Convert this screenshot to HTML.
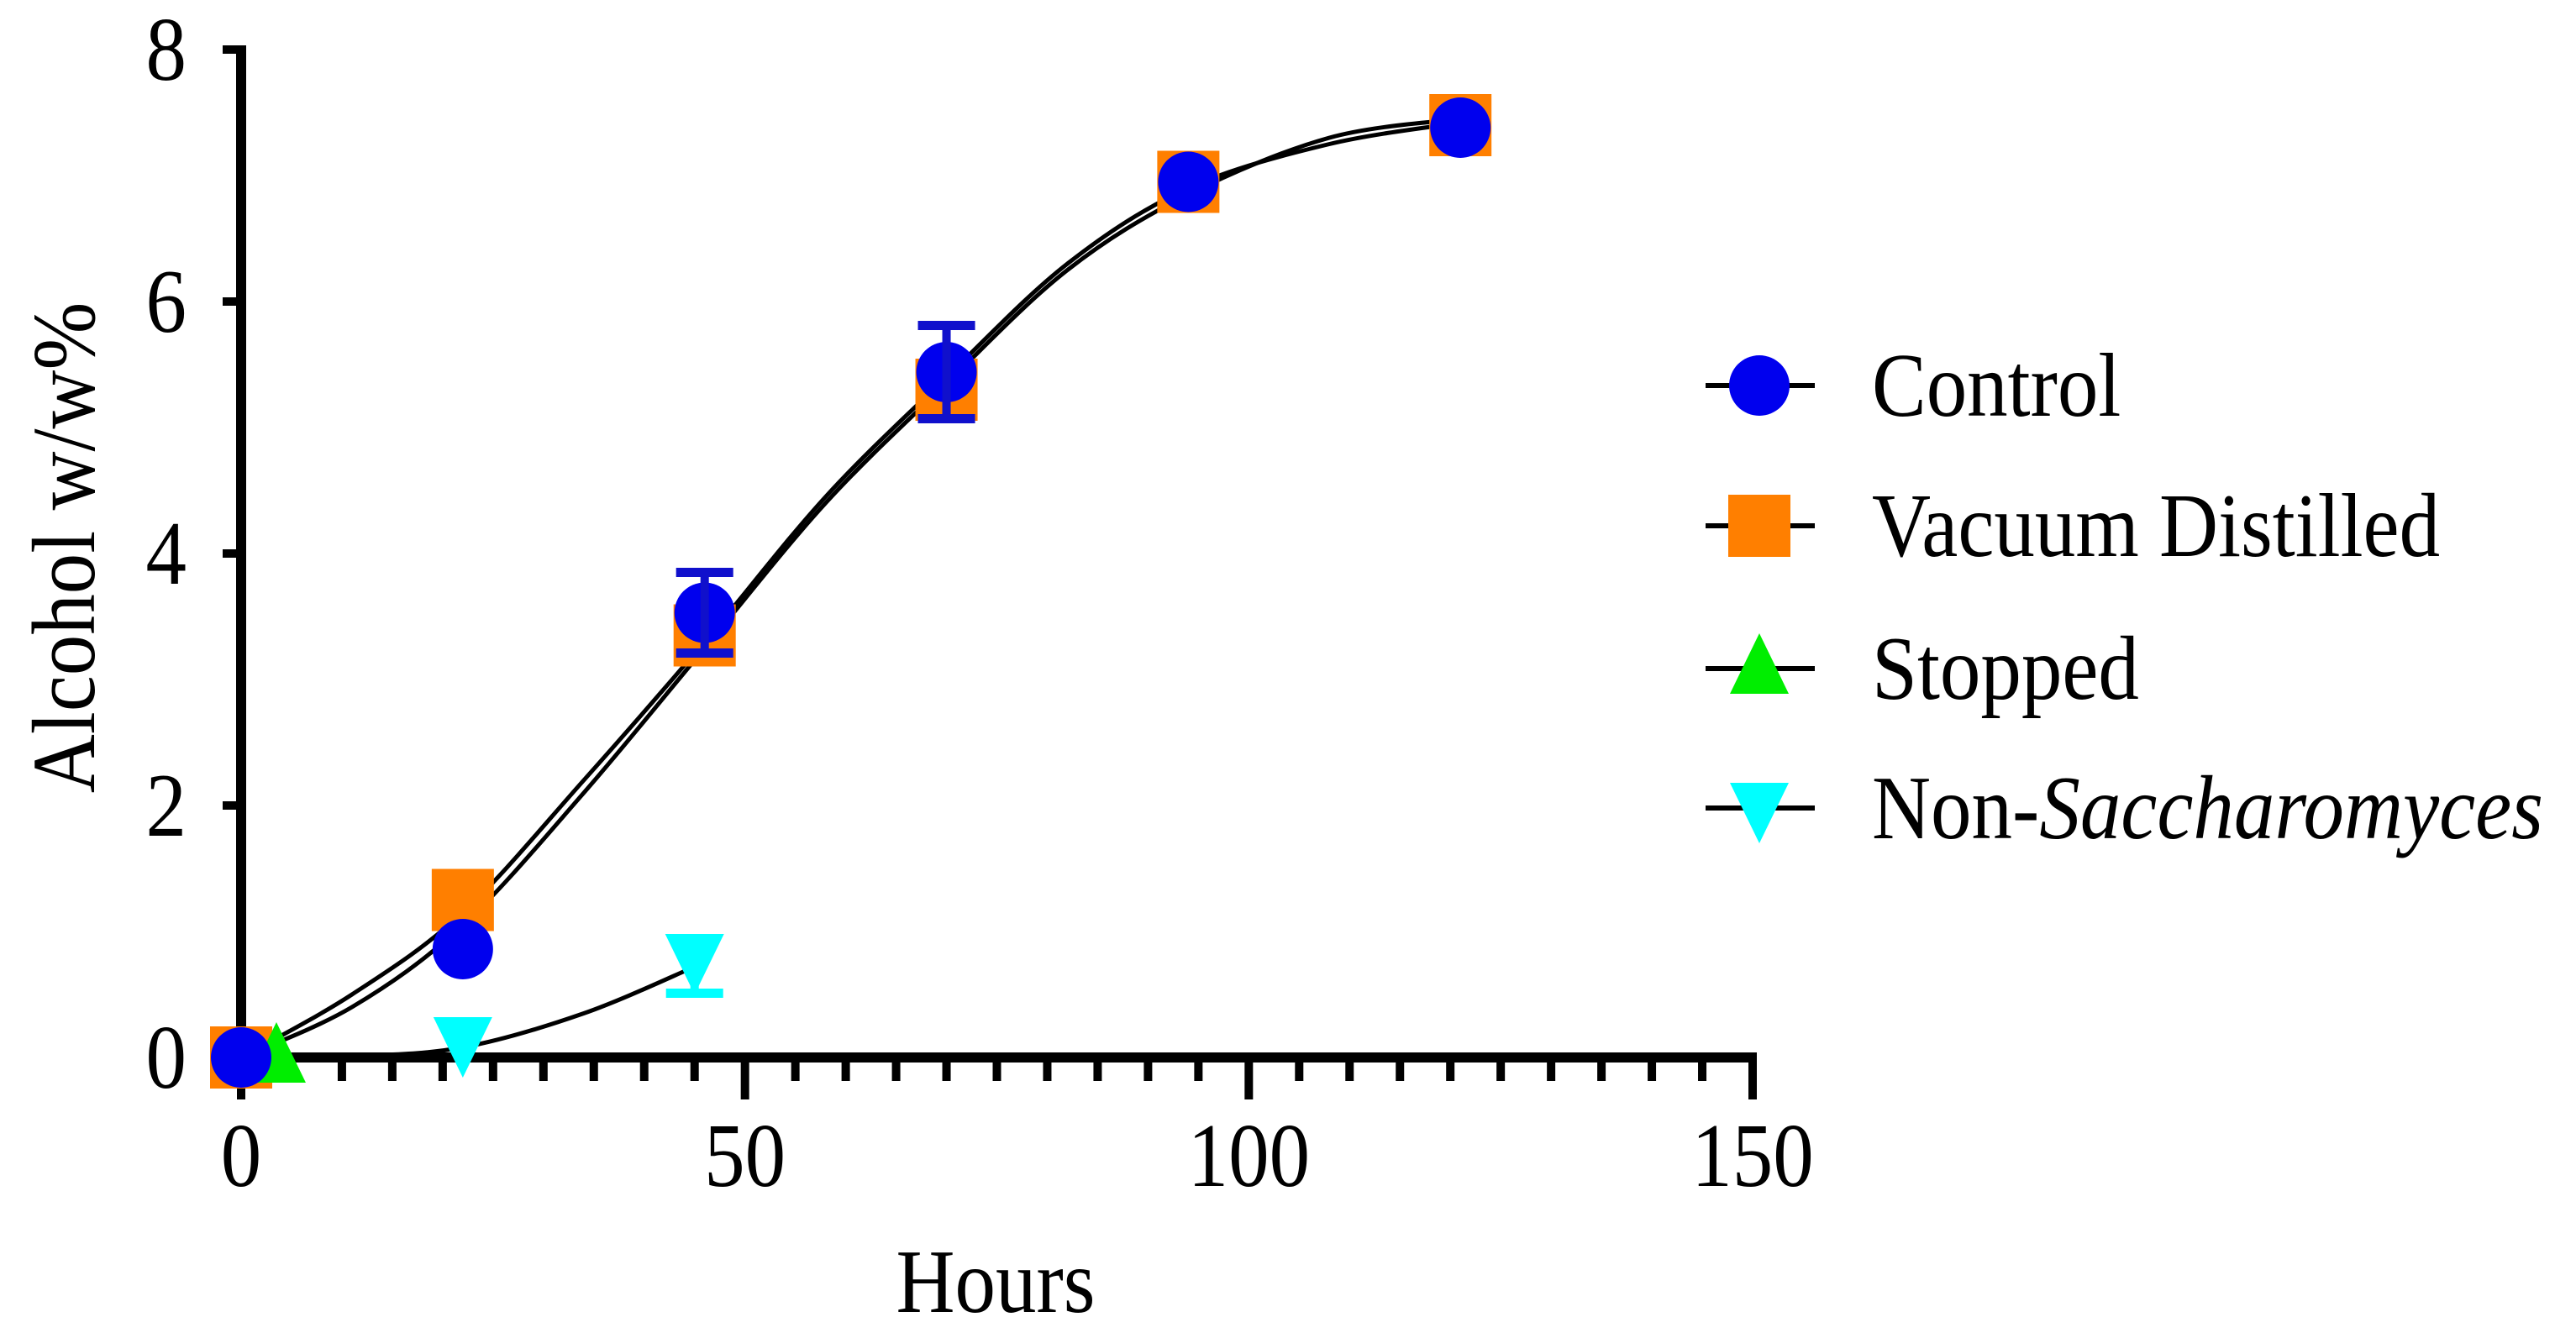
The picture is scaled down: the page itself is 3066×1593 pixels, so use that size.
<!DOCTYPE html>
<html><head><meta charset="utf-8"><style>
html,body{margin:0;padding:0;background:#fff;}
svg{display:block;}
text{font-family:"Liberation Serif",serif;fill:#000;}
</style></head><body>
<svg id="chart" width="3066" height="1593" viewBox="0 0 3066 1593" xmlns="http://www.w3.org/2000/svg">
<g id="axes"></g>
<g id="curves"></g>
<g id="marks"></g>
<g id="legend"></g>
<text x="0" y="0" font-size="97" text-anchor="middle" transform="translate(112,652) rotate(-90) scale(1,1.1)">Alcohol w/w%</text>
<text x="0" y="0" font-size="97" text-anchor="middle" transform="translate(1185,1562) scale(1,1.12)">Hours</text>
</svg>
<script>
const xTicks=[0,50,100,150];
const yTicks=[0,2,4,6,8];
const controlX=[0,22,46,70,94,121];
const controlY=[0,0.86,3.53,5.44,6.95,7.38];
const controlErr=[0,0,0.32,0.37,0,0];
const vacuumX=[0,22,46,70,94,121];
const vacuumY=[0,1.25,3.35,5.3,6.95,7.4];
const stoppedX=[3.5];
const stoppedY=[0];
const nonSaccX=[0,22,45];
const nonSaccY=[0,0.12,0.78];
const nonSaccErr=[0,0,0.27];
const seriesNames=["Control","Vacuum Distilled","Stopped","Non-Saccharomyces"];
// fitted curve values
const fitX=[0,11,22,34,46,58,70,82,94,108,121];
const controlFit=[0,0.4,1.05,2.1,3.25,4.4,5.35,6.25,6.85,7.3,7.45];
const vacuumFit=[0,0.5,1.15,2.2,3.3,4.45,5.4,6.3,6.9,7.25,7.42];
const nonSaccFitX=[0,11,22,34,45];
const nonSaccFit=[0,0.01,0.08,0.35,0.72];

const X0=287,X1=2086,Y0=1259,Y1=59;
function sx(v){return X0+(v-0)/150*(X1-X0);}
function sy(v){return Y0-(v-0)/8*(Y0-Y1);}
const NS="http://www.w3.org/2000/svg";
function mk(tag,attrs,parent){const e=document.createElementNS(NS,tag);for(const k in attrs)e.setAttribute(k,attrs[k]);parent.appendChild(e);return e;}
const axes=document.getElementById('axes'),curves=document.getElementById('curves'),marks=document.getElementById('marks'),legend=document.getElementById('legend');
function txt(x,y,anchor,parent){return mk('text',{x:0,y:0,'font-size':97,'text-anchor':anchor,transform:'translate('+x+','+y+') scale(1,1.12)'},parent);}

let a=mk('line',{x1:X0,y1:Y1-5,x2:X0,y2:Y0+6,stroke:'#000','stroke-width':12},axes);


a=mk('line',{x1:X0-16,y1:Y0,x2:X1+5,y2:Y0,stroke:'#000','stroke-width':12},axes);


yTicks.forEach(v=>{
  const t=mk('line',{x1:X0-22,y1:sy(v),x2:X0,y2:sy(v),stroke:'#000','stroke-width':10},axes);
  
  
  const l=txt(222,sy(v)+36,'end',axes);
  l.textContent=v;
  
  
});
for(let v=0;v<=150;v+=5){
  const major=xTicks.indexOf(v)>=0;
  const t=mk('line',{x1:sx(v),y1:Y0,x2:sx(v),y2:Y0+(major?50:28),stroke:'#000','stroke-width':10},axes);
  
  
}
xTicks.forEach(v=>{
  const l=txt(sx(v),1412,'middle',axes);
  l.textContent=v;
  
  
});

function smooth(xs,ys){
  const p=xs.map((x,i)=>[sx(x),sy(ys[i])]);
  let d='M'+p[0][0]+','+p[0][1];
  for(let i=0;i<p.length-1;i++){
    const p0=p[Math.max(0,i-1)],p1=p[i],p2=p[i+1],p3=p[Math.min(p.length-1,i+2)];
    const c1=[p1[0]+(p2[0]-p0[0])/6,p1[1]+(p2[1]-p0[1])/6];
    const c2=[p2[0]-(p3[0]-p1[0])/6,p2[1]-(p3[1]-p1[1])/6];
    d+=' C'+c1[0]+','+c1[1]+' '+c2[0]+','+c2[1]+' '+p2[0]+','+p2[1];
  }
  return d;
}
[[fitX,controlFit,'control-curve'],[fitX,vacuumFit,'vacuum-curve'],[nonSaccFitX,nonSaccFit,'non-sacc-curve']].forEach(s=>{
  const c=mk('path',{d:smooth(s[0],s[1]),fill:'none',stroke:'#000','stroke-width':5},curves);
  
  
});

function errBar(x,y,e,color,dir){
  if(!e)return;
  const g=mk('g',{},marks);
  
  
  const ys=[];
  if(dir!=='down')ys.push(y+e);
  if(dir!=='up')ys.push(y-e);
  ys.forEach(v=>{
    mk('line',{x1:sx(x),y1:sy(y),x2:sx(x),y2:sy(v),stroke:color,'stroke-width':10},g);
    mk('line',{x1:sx(x)-34,y1:sy(v),x2:sx(x)+34,y2:sy(v),stroke:color,'stroke-width':11},g);
  });
}
function square(cx,cy,p,name){const r=mk('rect',{x:cx-37,y:cy-37,width:74,height:74,fill:'#ff7f00'},p);}
function circle(cx,cy,p,name){const r=mk('circle',{cx:cx,cy:cy,r:36,fill:'#0000ee'},p);}
function triUp(cx,cy,p,name){const r=mk('polygon',{points:(cx)+','+(cy-42)+' '+(cx+35)+','+(cy+30)+' '+(cx-35)+','+(cy+30),fill:'#00ee00'},p);}
function triDown(cx,cy,p,name){const r=mk('polygon',{points:(cx)+','+(cy+42)+' '+(cx+35)+','+(cy-30)+' '+(cx-35)+','+(cy-30),fill:'#00ffff'},p);}

nonSaccX.forEach((x,i)=>{ if(i>0){triDown(sx(x),sy(nonSaccY[i]),marks,'non-sacc-point'); errBar(x,nonSaccY[i],nonSaccErr[i],'#00ffff','down');}});
vacuumX.forEach((x,i)=>square(sx(x),sy(vacuumY[i]),marks,'vacuum-point'));
stoppedX.forEach((x,i)=>triUp(sx(x),sy(stoppedY[i]),marks,'stopped-point'));
controlX.forEach((x,i)=>{circle(sx(x),sy(controlY[i]),marks,'control-point'); errBar(x,controlY[i],controlErr[i],'#1010cc');});

const rowsY=[459,626,796,962];
const drawers=[circle,square,triUp,triDown];
seriesNames.forEach((n,i)=>{
  const g=mk('g',{},legend);
  
  
  mk('line',{x1:2030,y1:rowsY[i],x2:2160,y2:rowsY[i],stroke:'#000','stroke-width':6},g);
  drawers[i](2094,rowsY[i],g,'legend-marker');
  const t=txt(2228,rowsY[i]+36,'start',g);
  if(i===3){t.innerHTML='Non-<tspan font-style="italic">Saccharomyces</tspan>';}
  else t.textContent=n;
  
  
});
</script>
</body></html>
